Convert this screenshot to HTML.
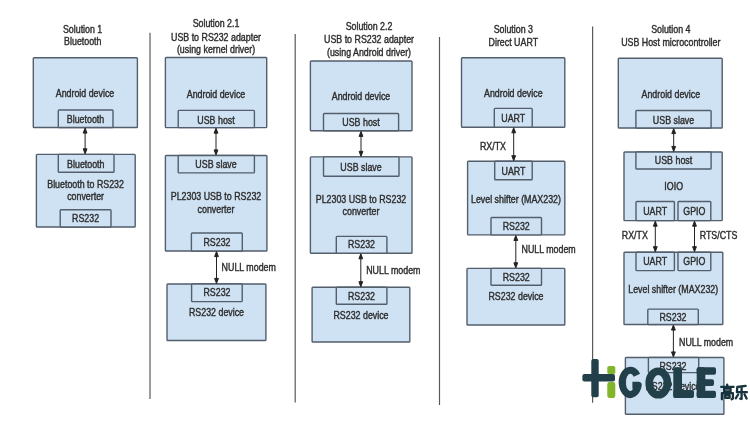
<!DOCTYPE html>
<html><head><meta charset="utf-8"><title>Android RS232 solutions</title>
<style>
html,body{margin:0;padding:0;background:#fff;}
body{width:750px;height:423px;overflow:hidden;font-family:"Liberation Sans",sans-serif;}
svg{display:block;}
svg text{font-family:"Liberation Sans",sans-serif;}
</style></head><body>
<svg width="750" height="423" viewBox="0 0 750 423">
<defs><filter id="b1" x="-2%" y="-2%" width="104%" height="104%"><feGaussianBlur stdDeviation="0.55"/></filter><filter id="b3" x="-2%" y="-2%" width="104%" height="104%"><feGaussianBlur stdDeviation="0.45"/></filter><filter id="b2" x="-5%" y="-5%" width="110%" height="110%"><feGaussianBlur stdDeviation="0.35"/></filter></defs>
<rect x="0" y="0" width="750" height="423" fill="#ffffff"/>
<g id="diagram" filter="url(#b1)">
<g id="dividers" stroke="#5a5a5a" stroke-width="1.2">
<line x1="150.0" y1="32.8" x2="150.0" y2="399.0"/>
<line x1="295.2" y1="34.0" x2="295.2" y2="402.4"/>
<line x1="439.5" y1="37.0" x2="439.5" y2="405.0"/>
<line x1="592.6" y1="26.5" x2="592.6" y2="402.7"/>
</g>
<g id="boxes" fill="#cfe2f3" stroke="#525e6c" stroke-width="1.4">
<rect x="33.3" y="57.7" width="104.1" height="69.8" rx="0.8"/>
<rect x="58.3" y="110.0" width="54.7" height="17.5" rx="0.8"/>
<rect x="36.4" y="154.4" width="98.8" height="72.6" rx="0.8"/>
<rect x="58.3" y="154.4" width="55.7" height="17.9" rx="0.8"/>
<rect x="60.2" y="209.8" width="50.8" height="17.2" rx="0.8"/>
<rect x="165.4" y="57.5" width="101.3" height="70.1" rx="0.8"/>
<rect x="178.2" y="110.4" width="76.2" height="17.2" rx="0.8"/>
<rect x="165.4" y="155.5" width="101.5" height="95.5" rx="0.8"/>
<rect x="178.2" y="155.5" width="76.2" height="17.4" rx="0.8"/>
<rect x="191.4" y="233.0" width="50.9" height="18.0" rx="0.8"/>
<rect x="167.0" y="284.0" width="98.9" height="56.5" rx="0.8"/>
<rect x="191.6" y="284.0" width="50.6" height="17.6" rx="0.8"/>
<rect x="310.4" y="61.0" width="101.6" height="69.8" rx="0.8"/>
<rect x="323.5" y="113.5" width="75.1" height="17.3" rx="0.8"/>
<rect x="310.4" y="156.9" width="101.6" height="96.3" rx="0.8"/>
<rect x="323.5" y="156.9" width="75.5" height="19.3" rx="0.8"/>
<rect x="336.3" y="236.4" width="50.6" height="16.8" rx="0.8"/>
<rect x="312.1" y="287.3" width="97.7" height="54.7" rx="0.8"/>
<rect x="336.3" y="287.3" width="50.6" height="17.0" rx="0.8"/>
<rect x="461.5" y="57.7" width="103.3" height="69.5" rx="0.8"/>
<rect x="494.3" y="108.4" width="37.9" height="18.8" rx="0.8"/>
<rect x="467.6" y="161.3" width="97.2" height="73.6" rx="0.8"/>
<rect x="494.7" y="161.3" width="37.5" height="18.4" rx="0.8"/>
<rect x="491.0" y="217.5" width="50.5" height="17.4" rx="0.8"/>
<rect x="467.0" y="268.4" width="97.8" height="56.6" rx="0.8"/>
<rect x="491.0" y="268.4" width="50.5" height="16.9" rx="0.8"/>
<rect x="618.3" y="58.2" width="103.9" height="69.8" rx="0.8"/>
<rect x="635.9" y="110.5" width="75.2" height="17.5" rx="0.8"/>
<rect x="624.0" y="152.0" width="98.2" height="68.6" rx="0.8"/>
<rect x="635.9" y="152.0" width="75.2" height="17.0" rx="0.8"/>
<rect x="636.0" y="201.5" width="38.4" height="19.1" rx="0.8"/>
<rect x="678.0" y="201.5" width="32.8" height="19.1" rx="0.8"/>
<rect x="624.0" y="252.3" width="98.8" height="72.2" rx="0.8"/>
<rect x="636.0" y="252.3" width="38.4" height="18.3" rx="0.8"/>
<rect x="678.0" y="252.3" width="32.8" height="18.3" rx="0.8"/>
<rect x="647.8" y="309.1" width="50.5" height="15.4" rx="0.8"/>
<rect x="625.4" y="357.5" width="98.5" height="56.8" rx="0.8"/>
<rect x="648.4" y="357.5" width="50.3" height="15.1" rx="0.8"/>
</g>
<g id="arrows" stroke="#222" stroke-width="1" fill="#222">
<line x1="85.1" y1="129.5" x2="85.1" y2="152.4"/><path d="M83.2 133.1 L85.1 128.1 L87.0 133.1 Z"/><path d="M83.2 148.8 L85.1 153.8 L87.0 148.8 Z"/>
<line x1="216.0" y1="129.6" x2="216.0" y2="153.5"/><path d="M214.1 133.2 L216.0 128.2 L217.9 133.2 Z"/><path d="M214.1 149.9 L216.0 154.9 L217.9 149.9 Z"/>
<line x1="216.5" y1="253.0" x2="216.5" y2="282.0"/><path d="M214.6 256.6 L216.5 251.6 L218.4 256.6 Z"/><path d="M214.6 278.4 L216.5 283.4 L218.4 278.4 Z"/>
<line x1="361.0" y1="132.8" x2="361.0" y2="154.9"/><path d="M359.1 136.4 L361.0 131.4 L362.9 136.4 Z"/><path d="M359.1 151.3 L361.0 156.3 L362.9 151.3 Z"/>
<line x1="360.8" y1="255.2" x2="360.8" y2="285.3"/><path d="M358.9 258.8 L360.8 253.8 L362.7 258.8 Z"/><path d="M358.9 281.7 L360.8 286.7 L362.7 281.7 Z"/>
<line x1="513.7" y1="129.2" x2="513.7" y2="159.3"/><path d="M511.8 132.8 L513.7 127.8 L515.6 132.8 Z"/><path d="M511.8 155.7 L513.7 160.7 L515.6 155.7 Z"/>
<line x1="515.8" y1="236.9" x2="515.8" y2="266.4"/><path d="M513.9 240.5 L515.8 235.5 L517.7 240.5 Z"/><path d="M513.9 262.8 L515.8 267.8 L517.7 262.8 Z"/>
<line x1="673.7" y1="130.0" x2="673.7" y2="150.0"/><path d="M671.8 133.6 L673.7 128.6 L675.6 133.6 Z"/><path d="M671.8 146.4 L673.7 151.4 L675.6 146.4 Z"/>
<line x1="655.3" y1="222.6" x2="655.3" y2="250.3"/><path d="M653.4 226.2 L655.3 221.2 L657.2 226.2 Z"/><path d="M653.4 246.7 L655.3 251.7 L657.2 246.7 Z"/>
<line x1="694.5" y1="222.6" x2="694.5" y2="250.3"/><path d="M692.6 226.2 L694.5 221.2 L696.4 226.2 Z"/><path d="M692.6 246.7 L694.5 251.7 L696.4 246.7 Z"/>
<line x1="673.4" y1="326.5" x2="673.4" y2="355.5"/><path d="M671.5 330.1 L673.4 325.1 L675.3 330.1 Z"/><path d="M671.5 351.9 L673.4 356.9 L675.3 351.9 Z"/>
</g>
<g id="labels" font-size="10" fill="#2e2e2e" stroke="#2e2e2e" stroke-width="0.4" filter="url(#b3)">
<text transform="translate(82.6 32.7) scale(0.885 1)" text-anchor="middle">Solution 1</text>
<text transform="translate(82.8 45.1) scale(0.885 1)" text-anchor="middle">Bluetooth</text>
<text transform="translate(85.0 96.5) scale(0.885 1)" text-anchor="middle">Android device</text>
<text transform="translate(85.5 123.1) scale(0.885 1)" text-anchor="middle">Bluetooth</text>
<text transform="translate(85.8 167.7) scale(0.885 1)" text-anchor="middle">Bluetooth</text>
<text transform="translate(85.6 188.4) scale(0.885 1)" text-anchor="middle">Bluetooth to RS232</text>
<text transform="translate(85.6 200.4) scale(0.885 1)" text-anchor="middle">converter</text>
<text transform="translate(85.6 222.1) scale(0.885 1)" text-anchor="middle">RS232</text>
<text transform="translate(216.0 27.0) scale(0.885 1)" text-anchor="middle">Solution 2.1</text>
<text transform="translate(216.0 40.5) scale(0.885 1)" text-anchor="middle">USB to RS232 adapter</text>
<text transform="translate(216.0 53.2) scale(0.885 1)" text-anchor="middle">(using kernel driver)</text>
<text transform="translate(216.0 97.7) scale(0.885 1)" text-anchor="middle">Android device</text>
<text transform="translate(216.0 123.5) scale(0.885 1)" text-anchor="middle">USB host</text>
<text transform="translate(216.0 167.8) scale(0.885 1)" text-anchor="middle">USB slave</text>
<text transform="translate(216.0 200.1) scale(0.885 1)" text-anchor="middle">PL2303 USB to RS232</text>
<text transform="translate(216.0 213.1) scale(0.885 1)" text-anchor="middle">converter</text>
<text transform="translate(217.0 245.7) scale(0.885 1)" text-anchor="middle">RS232</text>
<text transform="translate(221.6 270.9) scale(0.885 1)" text-anchor="start">NULL modem</text>
<text transform="translate(217.0 296.3) scale(0.885 1)" text-anchor="middle">RS232</text>
<text transform="translate(216.5 316.0) scale(0.885 1)" text-anchor="middle">RS232 device</text>
<text transform="translate(369.0 30.0) scale(0.885 1)" text-anchor="middle">Solution 2.2</text>
<text transform="translate(369.0 42.7) scale(0.885 1)" text-anchor="middle">USB to RS232 adapter</text>
<text transform="translate(369.0 56.0) scale(0.885 1)" text-anchor="middle">(using Android driver)</text>
<text transform="translate(361.0 99.5) scale(0.885 1)" text-anchor="middle">Android device</text>
<text transform="translate(361.0 126.0) scale(0.885 1)" text-anchor="middle">USB host</text>
<text transform="translate(361.0 170.5) scale(0.885 1)" text-anchor="middle">USB slave</text>
<text transform="translate(361.0 202.9) scale(0.885 1)" text-anchor="middle">PL2303 USB to RS232</text>
<text transform="translate(361.0 215.1) scale(0.885 1)" text-anchor="middle">converter</text>
<text transform="translate(361.5 248.4) scale(0.885 1)" text-anchor="middle">RS232</text>
<text transform="translate(366.2 274.0) scale(0.885 1)" text-anchor="start">NULL modem</text>
<text transform="translate(361.5 299.5) scale(0.885 1)" text-anchor="middle">RS232</text>
<text transform="translate(361.0 318.7) scale(0.885 1)" text-anchor="middle">RS232 device</text>
<text transform="translate(513.3 33.4) scale(0.885 1)" text-anchor="middle">Solution 3</text>
<text transform="translate(513.3 46.1) scale(0.885 1)" text-anchor="middle">Direct UART</text>
<text transform="translate(513.3 96.6) scale(0.885 1)" text-anchor="middle">Android device</text>
<text transform="translate(513.3 122.1) scale(0.885 1)" text-anchor="middle">UART</text>
<text transform="translate(506.0 149.8) scale(0.885 1)" text-anchor="end">RX/TX</text>
<text transform="translate(513.5 174.9) scale(0.885 1)" text-anchor="middle">UART</text>
<text transform="translate(516.0 202.9) scale(0.885 1)" text-anchor="middle">Level shifter (MAX232)</text>
<text transform="translate(516.2 229.7) scale(0.885 1)" text-anchor="middle">RS232</text>
<text transform="translate(521.5 253.2) scale(0.885 1)" text-anchor="start">NULL modem</text>
<text transform="translate(516.2 280.8) scale(0.885 1)" text-anchor="middle">RS232</text>
<text transform="translate(516.0 300.0) scale(0.885 1)" text-anchor="middle">RS232 device</text>
<text transform="translate(670.8 33.4) scale(0.885 1)" text-anchor="middle">Solution 4</text>
<text transform="translate(670.8 46.1) scale(0.885 1)" text-anchor="middle">USB Host microcontroller</text>
<text transform="translate(670.8 98.1) scale(0.885 1)" text-anchor="middle">Android device</text>
<text transform="translate(673.5 124.1) scale(0.885 1)" text-anchor="middle">USB slave</text>
<text transform="translate(673.5 163.7) scale(0.885 1)" text-anchor="middle">USB host</text>
<text transform="translate(673.7 189.5) scale(0.885 1)" text-anchor="middle">IOIO</text>
<text transform="translate(655.2 214.7) scale(0.885 1)" text-anchor="middle">UART</text>
<text transform="translate(694.4 214.7) scale(0.885 1)" text-anchor="middle">GPIO</text>
<text transform="translate(647.8 239.2) scale(0.885 1)" text-anchor="end">RX/TX</text>
<text transform="translate(699.7 239.2) scale(0.885 1)" text-anchor="start">RTS/CTS</text>
<text transform="translate(655.2 265.2) scale(0.885 1)" text-anchor="middle">UART</text>
<text transform="translate(694.4 265.2) scale(0.885 1)" text-anchor="middle">GPIO</text>
<text transform="translate(673.2 292.8) scale(0.885 1)" text-anchor="middle">Level shifter (MAX232)</text>
<text transform="translate(673.0 320.5) scale(0.885 1)" text-anchor="middle">RS232</text>
<text transform="translate(679.0 345.5) scale(0.885 1)" text-anchor="start">NULL modem</text>
<text transform="translate(673.0 369.8) scale(0.885 1)" text-anchor="middle">RS232</text>
<text transform="translate(673.0 389.5) scale(0.885 1)" text-anchor="middle">RS232 device</text>
</g>
</g>

<g id="logo" filter="url(#b2)">
 <g fill="#213f49">
  <rect x="591.3" y="358.9" width="7.4" height="38.4" rx="2"/>
  <rect x="582.4" y="374" width="32.6" height="7.6" rx="2"/>
 </g>
 <g fill="#82b52c">
  <rect x="607.3" y="366" width="8" height="8" rx="1.8"/>
  <rect x="607.3" y="382" width="8" height="16" rx="2.2"/>
 </g>
 <g fill="none" stroke="#213f49" stroke-width="7.6" stroke-linejoin="round">
  <path stroke-width="7" d="M636.92 375.19 A8.15 12.15 0 1 0 638.24 385.27 L632.4 385.27"/>
  <ellipse cx="658.3" cy="383" rx="9.1" ry="11.8"/>
 </g>
 <g fill="#213f49">
  <rect x="673.3" y="367.3" width="8.7" height="30.7" rx="2"/>
  <rect x="673.3" y="390" width="20.7" height="8" rx="2"/>
  <rect x="696.7" y="367.3" width="8.6" height="30.7" rx="2"/>
  <rect x="696.7" y="367.3" width="19.3" height="7.4" rx="2"/>
  <rect x="696.7" y="379.3" width="17.3" height="6.7" rx="2"/>
  <rect x="696.7" y="390.7" width="19.3" height="7.3" rx="2"/>
 </g>
 <g id="cjk" fill="none" stroke="#17323c" stroke-width="2.3" stroke-linecap="round" stroke-linejoin="round">
  <path d="M727.2 384.6 V386.4"/>
  <path d="M721.2 386.9 H733.6"/>
  <rect x="724.2" y="388.7" width="6.4" height="2.6"/>
  <path d="M721.9 399.3 V393.2 H732.9 V398.6 L731.6 399.3"/>
  <rect x="725.2" y="395.2" width="4.4" height="2.6"/>
  <path d="M745.6 385.9 L737.3 387 L736.9 392.2 H746.9"/>
  <path d="M741.6 388 V399 L740.2 398.6"/>
  <path d="M738.2 394.5 L735.9 398.2"/>
  <path d="M744.5 394.3 L746.6 398.5"/>
 </g>
</g>

</svg>
</body></html>
